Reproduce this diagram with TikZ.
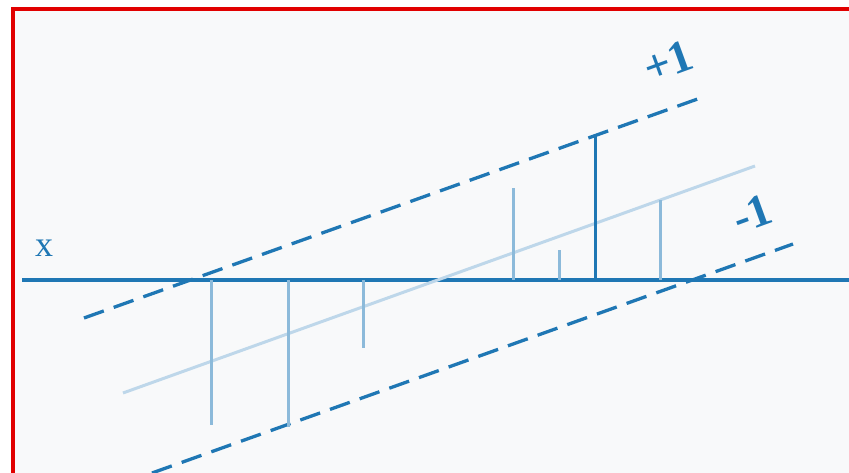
\documentclass[tikz,border=0pt]{standalone}
\usepackage{fontspec}
\setmainfont{Liberation Serif}
\usepackage{tikz}
\usetikzlibrary{calc}
\definecolor{bleu}{RGB}{31,119,180}
\definecolor{bleuclair}{RGB}{140,186,218}
\definecolor{bleupale}{RGB}{190,215,234}
\definecolor{fond}{RGB}{248,249,250}
\definecolor{rouge}{RGB}{225,0,0}

\begin{document}
\begin{tikzpicture}[x=1pt, y=-1pt,
		marge/.style={dashed, dash pattern=on 21pt off 10.5pt, bleu, line width=3.3pt},
		tige/.style={bleuclair, line width=3pt},
		etiquette/.style={text=bleu, inner sep=0pt}]
				\useasboundingbox (0,0) rectangle (849,473);
				\fill[white] (0,0) rectangle (849,473);
				\fill[fond] (15,11) rectangle (849,473);
				\draw[rouge, line width=4pt] (13,473) -- (13,9) -- (849,9);
				
				% axe et hyperplan
				\draw[bleu, line width=3pt] (22,280) -- (849,280);
				\draw[bleupale, line width=3pt] (123,393) -- (755,166);
				
				% marges
				\draw[marge] (84,318) -- (706,96);
				\draw[marge] (152,473) -- (793,244);
				
				% echantillons
				\foreach \x/\y in {211/425, 288/427, 363/348, 513/188, 559/250, 660/200}
				\draw[tige] (\x,280) -- (\x,\y);
				\draw[bleu, line width=3pt] (595,280) -- (595,134);
				
				\node[etiquette, font=\fontsize{36}{40}\selectfont] (labx) at (44,248) {x};
				\node[etiquette, font=\fontsize{46}{50}\selectfont\bfseries, rotate=20] (plus) at (668,62) {+1};
				\node[etiquette, font=\fontsize{46}{50}\selectfont\bfseries, rotate=20] (moins) at (752,214) {-1};
			\end{tikzpicture}
\end{document}
